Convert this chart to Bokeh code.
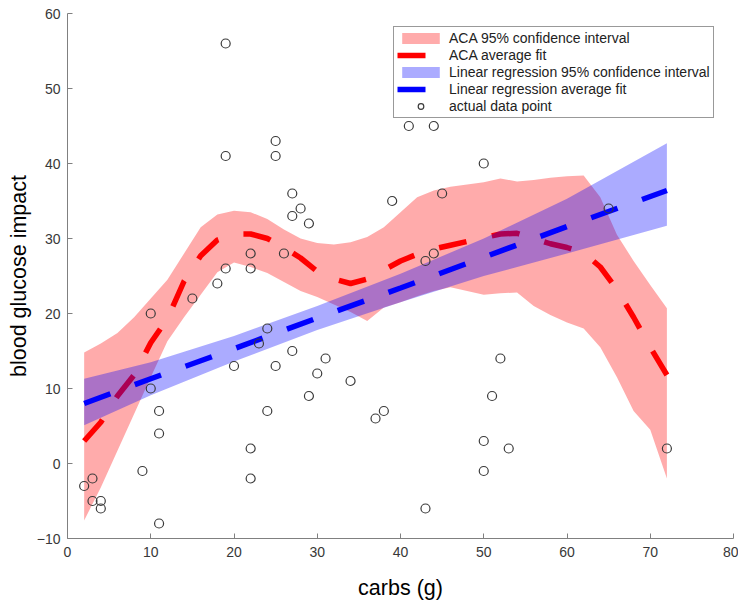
from bokeh.plotting import figure
from bokeh.models import Range1d, FixedTicker
from bokeh.embed import file_html
from bokeh.resources import INLINE

# ---- data ----
carbs = [2, 3, 3, 4, 4, 9, 10, 10, 11, 11, 11, 15, 18, 19, 19, 19, 20, 22, 22, 22, 22,
         23, 24, 24, 25, 25, 25, 26, 27, 27, 27, 28, 29, 29, 30, 31, 34, 37, 38, 39,
         41, 43, 43, 44, 44, 45, 50, 50, 50, 51, 52, 53, 65, 72]
impact = [-3, -2, -5, -5, -6, -1, 20, 10, 7, 4, -8, 22, 24, 56, 41, 26, 13, 28, 26, 2, -2,
          16, 18, 7, 43, 41, 13, 28, 36, 33, 15, 34, 32, 9, 12, 14, 11, 6, 7, 35,
          45, 27, -6, 45, 28, 36, 40, 3, -1, 9, 14, 2, 34, 2]

aca_x = [2, 4, 6, 8, 10, 12, 14, 16, 18, 20, 22, 24, 26, 28, 30, 32, 34, 36, 38, 40,
         42, 44, 46, 48, 50, 52, 54, 56, 58, 60, 62, 64, 66, 68, 70, 72]
aca_fit = [3.0, 5.5, 9.0, 11.8, 16.1, 19.3, 24.3, 27.7, 29.8, 30.6, 30.6, 30.0, 28.8, 27.4,
           25.6, 24.6, 24.0, 24.6, 25.8, 27.0, 27.9, 28.6, 29.1, 29.6, 30.1, 30.6, 30.7,
           30.0, 29.3, 28.8, 28.1, 26.2, 23.2, 19.5, 15.5, 11.8]
aca_upper = [14.8, 16.0, 17.4, 19.5, 22.0, 24.5, 28.0, 31.5, 33.2, 33.7, 33.5, 32.6, 31.2,
             30.0, 29.4, 29.2, 29.5, 30.2, 31.5, 33.5, 35.5, 36.4, 36.9, 37.2, 37.5, 38.0,
             37.6, 37.8, 38.1, 38.3, 38.4, 35.5, 30.5, 27.0, 23.8, 20.7]
aca_lower = [-7.6, -3.2, 1.7, 6.6, 11.5, 16.3, 19.5, 22.5, 25.5, 26.8, 26.2, 25.4, 24.2,
             23.0, 22.2, 21.2, 20.2, 19.0, 20.8, 21.5, 22.3, 23.0, 23.5, 23.0, 22.5, 22.7,
             22.8, 21.0, 19.8, 18.8, 18.0, 15.5, 11.5, 7.0, 4.5, -2.0]

lr_x = [2, 10, 20, 30, 40, 50, 60, 72]
lr_fit = [8.0, 11.3, 15.3, 19.4, 23.4, 27.5, 31.6, 36.4]
lr_upper = [11.3, 13.5, 17.0, 21.0, 25.3, 30.0, 35.3, 42.7]
lr_lower = [5.1, 9.1, 13.6, 17.8, 21.5, 25.0, 28.0, 31.7]

x_ticks = [0, 10, 20, 30, 40, 50, 60, 70, 80]
y_ticks = [-10, 0, 10, 20, 30, 40, 50, 60]

FONT = "Liberation Sans"

p = figure(width=738, height=603, x_range=Range1d(0, 80), y_range=Range1d(-10, 60),
           output_backend="svg", toolbar_location=None,
           min_border_left=67, min_border_right=5, min_border_top=13, min_border_bottom=65)
p.outline_line_color = None
p.grid.visible = False
p.background_fill_color = "white"
p.border_fill_color = "white"

p.varea(x=aca_x, y1=aca_lower, y2=aca_upper, fill_color="#ff0000", fill_alpha=0.33,
        legend_label="ACA 95% confidence interval")
p.line(aca_x, aca_fit, line_color="#ff0000", line_width=5.5, line_dash="28 26",
       legend_label="ACA average fit")
p.varea(x=lr_x, y1=lr_lower, y2=lr_upper, fill_color="#0000ff", fill_alpha=0.33,
        legend_label="Linear regression 95% confidence interval")
p.line(lr_x, lr_fit, line_color="#0000ff", line_width=5.5, line_dash="28 26",
       legend_label="Linear regression average fit")
p.scatter(carbs, impact, marker="circle", size=9, fill_color=None, line_color="#3a3a3a",
          line_width=1.2, legend_label="actual data point")

for ax, ticks in ((p.xaxis, x_ticks), (p.yaxis, y_ticks)):
    ax.ticker = FixedTicker(ticks=ticks)
    ax.minor_tick_line_color = None
    ax.major_tick_in = 5
    ax.major_tick_out = 0
    ax.axis_line_color = "#808080"
    ax.major_tick_line_color = "#808080"
    ax.major_label_text_font = FONT
    ax.major_label_text_font_size = "14px"
    ax.major_label_text_color = "#383838"
    ax.axis_label_text_font = FONT
    ax.axis_label_text_font_size = "21.5px"
    ax.axis_label_text_font_style = "normal"
    ax.axis_label_text_color = "#000000"

p.xaxis.axis_label = "carbs (g)"
p.yaxis.axis_label = "blood glucose impact"
p.xaxis.major_label_standoff = 8
p.yaxis.major_label_standoff = 7
p.xaxis.axis_label_standoff = 16
p.yaxis.axis_label_standoff = 3

lg = p.legend[0]
lg.location = (326, 420)
lg.margin = 0
lg.padding = 3
lg.spacing = 1
lg.glyph_width = 47
lg.glyph_height = 14
lg.label_height = 14
lg.label_standoff = 5
lg.label_text_font = FONT
lg.label_text_font_size = "14px"
lg.label_text_color = "#222222"
lg.border_line_color = "#333333"
lg.border_line_width = 1
lg.background_fill_alpha = 1.0

open("out.html", "w").write(file_html(p, INLINE))
